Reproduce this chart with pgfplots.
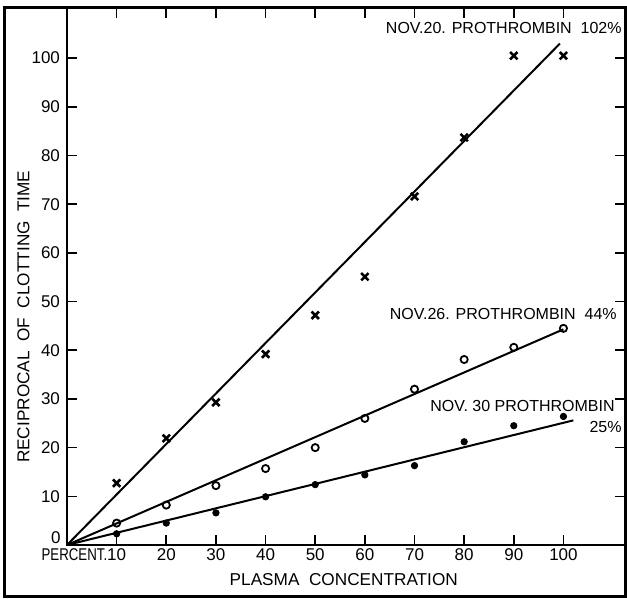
\documentclass[border=0pt]{standalone}
\usepackage{fontspec}
\setmainfont{Liberation Sans}
\usepackage{pgfplots}
\pgfplotsset{compat=1.18}

% points: plasma concentration (%), reciprocal of clotting time
\pgfplotstableread{
x    nov20  nov26  nov30
10   12.7   4.5    2.3
20   21.9   8.2    4.5
30   29.3   12.2   6.6
40   39.2   15.7   9.9
50   47.2   20.0   12.4
60   55.1   26.0   14.4
70   71.6   32.0   16.3
80   83.7   38.1   21.2
90   100.5  40.6   24.5
100  100.5  44.5   26.4
}\clotting

\begin{document}
\begin{tikzpicture}
\begin{axis}[
    name=ax,
    scale only axis,
    width=279pt, height=268.5pt,
    xmin=0, xmax=112.4, ymin=0, ymax=110.3,
    axis line style={line width=1pt},
    tick style={line width=0.8pt, black},
    major tick length=5pt,
    tick align=inside,
    xtick={10,20,...,100},
    ytick={10,20,...,100},
    extra y ticks={0},
    extra y tick style={yticklabel style={yshift=3.5pt, inner sep=1pt, xshift=-2pt}},
    xticklabels={\llap{\scalebox{0.78}[1]{PERCENT.}}10,20,30,40,50,60,70,80,90,100},
    /pgf/number format/assume math mode=true,
    ticklabel style={font=\fontsize{8.5}{10}\selectfont},
    xticklabel style={inner sep=1.5pt},
    label style={font=\fontsize{8.6}{10}\selectfont},
    xlabel={PLASMA\ \ CONCENTRATION},
    xlabel style={at={(axis description cs:0.496,0)}, anchor=center, yshift=-17.5pt},
    ylabel={RECIPROCAL\ \ OF\ \ CLOTTING\ \ TIME},
    ylabel style={at={(axis description cs:-0.078,0.425)}, anchor=center},
    clip=false,
]
% fitted straight lines
\addplot[black, line width=1pt] coordinates {(0,0) (99.3,103)};
\addplot[black, line width=1pt] coordinates {(0,0) (100,44.3)};
\addplot[black, line width=1pt] coordinates {(0,0) (102,25.6)};
% observations
\addplot[only marks, mark=x, mark size=2.6pt, mark options={line width=1.3pt}] table[x=x, y=nov20] {\clotting};
\addplot[only marks, mark=o, mark size=1.8pt, mark options={line width=0.9pt}] table[x=x, y=nov26] {\clotting};
\addplot[only marks, mark=*, mark size=1.6pt] table[x=x, y=nov30] {\clotting};

\begin{scope}[every node/.style={font=\fontsize{8}{10}\selectfont, inner sep=0pt}]
\node[anchor=east] at (axis cs:111.8,106.2) {NOV.20. PROTHROMBIN\ \ 102\%};
\node[anchor=east] at (axis cs:110.8,47.4) {NOV.26. PROTHROMBIN\ \ 44\%};
\node[anchor=east] at (axis cs:110.4,28.5) {NOV. 30 PROTHROMBIN};
\node[anchor=east] at (axis cs:111.8,24.3) {25\%};
\end{scope}
\end{axis}
\draw[line width=1.5pt] ([xshift=-31pt,yshift=-26pt]ax.south west) rectangle (ax.north east);
\path ([xshift=-33.5pt,yshift=-26.5pt]ax.south west) rectangle ([xshift=1pt,yshift=4pt]ax.north east);
\end{tikzpicture}
\end{document}
